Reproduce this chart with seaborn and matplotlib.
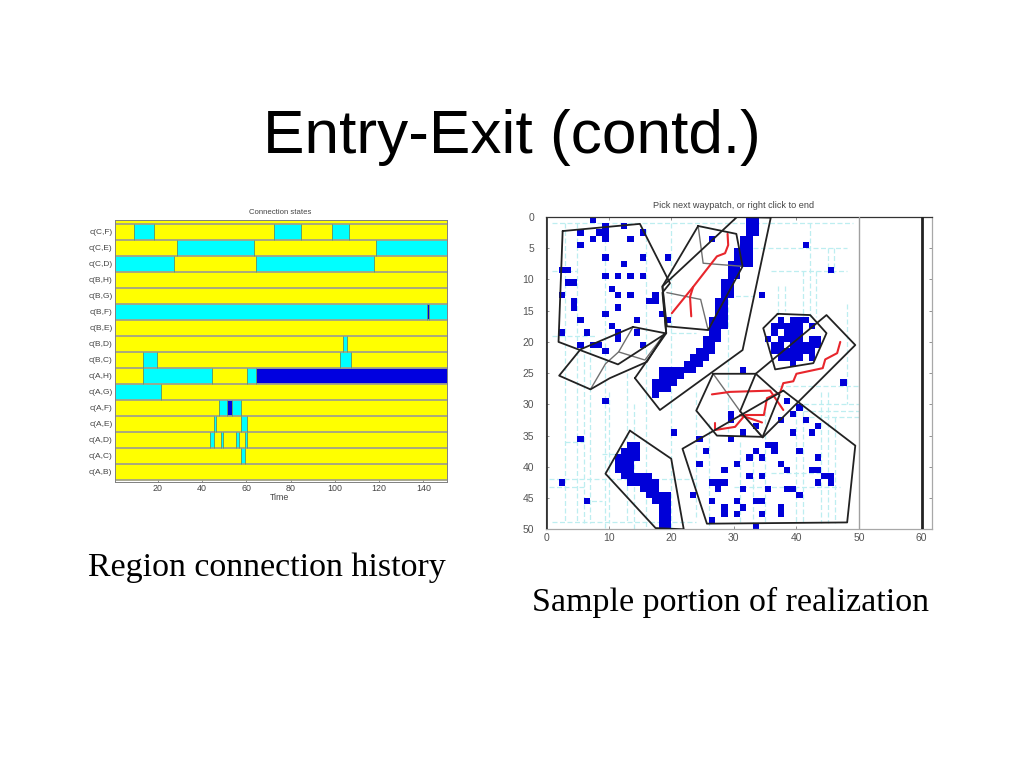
# Entry-exit slide: connection state history and a realization map
import numpy as np
import matplotlib
matplotlib.use('Agg')
import matplotlib.pyplot as plt
from matplotlib.colors import ListedColormap
import seaborn as sns

sns.set_style('white')
plt.rcParams['font.family'] = ['Liberation Sans', 'DejaVu Sans']

W, H = 1024, 768

# left chart: rows top to bottom, (start, stop, state) runs, 0 is yellow by default
conn_labels = ['c(C,F)', 'c(C,E)', 'c(C,D)', 'c(B,H)', 'c(B,G)', 'c(B,F)', 'c(B,E)', 'c(B,D)',
               'c(B,C)', 'c(A,H)', 'c(A,G)', 'c(A,F)', 'c(A,E)', 'c(A,D)', 'c(A,C)', 'c(A,B)']
conn_runs = [
    [(9, 18, 1), (72, 84, 1), (98, 106, 1)],
    [(28, 63, 1), (118, 150, 1)],
    [(0, 27, 1), (64, 117, 1)],
    [],
    [],
    [(0, 141, 1), (141, 142, 2), (142, 150, 1)],
    [],
    [(103, 105, 1)],
    [(13, 19, 1), (102, 107, 1)],
    [(13, 44, 1), (60, 64, 1), (64, 150, 2)],
    [(0, 21, 1)],
    [(47, 51, 1), (51, 53, 2), (53, 57, 1)],
    [(45, 46, 1), (57, 60, 1)],
    [(43, 45, 1), (48, 49, 1), (55, 56, 1), (59, 60, 1)],
    [(57, 59, 1)],
    [],
]
time_ticks = [20, 40, 60, 80, 100, 120, 140]

# right chart: single blue cells (col, row)
blue_cells = [
    (7, 0), (9, 1), (12, 1), (5, 2), (8, 2), (9, 2), (15, 2), (7, 3), (9, 3), (13, 3), (26, 3),
    (5, 4), (9, 6), (15, 6), (19, 6), (12, 7), (2, 8), (3, 8), (9, 9), (11, 9), (13, 9), (15, 9),
    (3, 10), (4, 10), (10, 11), (11, 12), (13, 12), (2, 12), (17, 12), (16, 13), (17, 13),
    (4, 13), (4, 14), (11, 14), (9, 15), (18, 15), (5, 16), (14, 16), (19, 16), (10, 17),
    (2, 18), (6, 18), (11, 18), (14, 18), (11, 19), (5, 20), (7, 20), (8, 20), (15, 20), (9, 21),
    (41, 4), (45, 8), (34, 12), (31, 24), (47, 26), (9, 29), (38, 29), (40, 30), (39, 31),
    (29, 31), (29, 32), (37, 32), (41, 32), (43, 33), (33, 33), (20, 34), (31, 34), (39, 34),
    (42, 34), (5, 35), (24, 35), (29, 35), (35, 36), (36, 36), (25, 37), (33, 37), (36, 37),
    (40, 37), (32, 38), (34, 38), (43, 38), (24, 39), (30, 39), (37, 39), (28, 40), (38, 40),
    (42, 40), (43, 40), (32, 41), (34, 41), (44, 41), (45, 41), (2, 42), (26, 42), (27, 42),
    (28, 42), (43, 42), (45, 42), (27, 43), (31, 43), (35, 43), (38, 43), (39, 43), (23, 44),
    (40, 44), (6, 45), (26, 45), (30, 45), (33, 45), (34, 45), (28, 46), (31, 46), (37, 46),
    (28, 47), (30, 47), (34, 47), (37, 47), (26, 48), (33, 49),
]
# blue runs (row, first col, last col)
band_runs = [
    (0, 32, 33), (1, 32, 33), (2, 32, 33), (3, 31, 32), (4, 31, 32), (5, 30, 32), (6, 30, 32),
    (7, 29, 32), (8, 29, 30), (9, 29, 30), (10, 28, 29), (11, 28, 29), (12, 28, 29), (13, 27, 28),
    (14, 27, 28), (15, 27, 28), (16, 26, 28), (17, 26, 28), (18, 26, 27), (19, 25, 27), (20, 25, 26),
    (21, 24, 26), (22, 23, 25), (23, 22, 24), (24, 18, 23), (25, 18, 21), (26, 17, 20), (27, 17, 19),
    (28, 17, 17),
]
hook_runs = [
    (36, 13, 14), (37, 12, 14), (38, 11, 14), (39, 11, 13), (40, 11, 13), (41, 12, 16), (42, 13, 17),
    (43, 15, 17), (44, 16, 19), (45, 17, 19), (46, 18, 19), (47, 18, 19), (48, 18, 19), (49, 18, 19),
]
blob_runs = [
    (16, 37, 37), (16, 39, 41), (17, 36, 40), (17, 42, 42), (18, 36, 36), (18, 38, 40),
    (19, 35, 35), (19, 37, 40), (19, 42, 43), (20, 36, 37), (20, 39, 43), (21, 36, 42),
    (22, 37, 40), (22, 42, 42), (23, 39, 39),
]

# waypatch outlines
black_polys = [
    [(2.66, 2.25), (15, 1.1), (19.8, 10.6), (18.6, 12.1), (19.2, 18.6), (11.5, 23.6), (2, 20)],
    [(24.3, 1.44), (30.4, 2.7), (31.4, 7.9), (25.9, 18.1), (19.3, 17.5), (18.6, 11.1)],
    [(14.2, 25.8), (19.2, 18.6), (18.6, 11.1), (30.5, 0), (35.9, 0.1), (31.4, 21.3), (18.2, 30.9)],
    [(13.9, 17.6), (19, 18.6), (16.1, 23.2), (10.2, 25.8), (7.1, 27.6), (2.1, 25.4), (5.5, 21.2)],
    [(26.7, 25.1), (33.5, 25.1), (37.3, 28.5), (34.6, 35.2), (27.3, 35), (24, 31)],
    [(33.5, 25.1), (44.8, 15.7), (49.4, 20.5), (34.6, 35.3), (31, 31.1)],
    [(37.9, 27.8), (49.4, 36.6), (48.1, 48.9), (25.7, 49.1), (21.8, 37.1)],
    [(37, 15.5), (42.2, 15.7), (44.8, 18.6), (42.7, 23.4), (36.6, 24.4), (34.7, 17.8)],
    [(13.4, 34.2), (20, 38.7), (22, 50), (17.5, 49.8), (9.5, 41.1)],
]
grey_paths = [
    [(13.9, 17.6), (11.6, 21.6), (15.8, 22.9), (19, 18.6)],
    [(7.1, 27.6), (9.5, 23.5), (11.6, 21.6)],
    [(19.3, 12.1), (24.7, 13.2), (25.9, 18.1)],
    [(24.3, 1.44), (25.1, 7.4), (31.4, 7.9)],
    [(26.7, 25.1), (31, 31.1), (34.6, 35.2)],
]
red_paths = [
    [(29, 2.7), (29.1, 4.5), (28.6, 5.8), (27.3, 6.3), (25.4, 8.75), (23.5, 11.2), (20.1, 15.4)],
    [(23.5, 11.2), (23, 12.8), (23.2, 15.9)],
    [(47, 20), (46.5, 21.8), (44.6, 22.8), (44.2, 24.2), (40, 25.1), (39.5, 26.3), (37.9, 26.6),
     (37.4, 28.1), (35.3, 29), (34.8, 31.7), (31.8, 31.7), (30.2, 33.6), (27, 34.1)],
    [(31, 31.7), (34.5, 32.9)],
    [(26.5, 28.4), (29.4, 28), (35.8, 27.8), (37.9, 30.9)],
    [(27, 33), (27, 34.1)],
]

# dashed partition lines (x, y0, y1) and (y, x0, x1)
v_dash = [
    (3, 1, 49), (5, 1, 49), (6, 22, 49), (7, 20, 49), (9.5, 1, 50), (10, 28, 49), (13, 25, 49),
    (14, 30, 50), (16, 2, 50), (20, 1, 50), (24, 28, 48), (26, 33, 50), (29, 12, 35), (31, 36, 49),
    (33, 38, 50), (35, 30, 49), (37.1, 11, 16), (38.2, 11, 15), (40, 30, 49), (41, 30, 49),
    (41.1, 8.7, 16), (42.1, 1, 16), (43.1, 8.7, 16), (44, 28, 49), (45, 28, 49), (45.1, 5, 9),
    (46, 5, 9), (46.2, 32, 49), (48, 14, 30),
]
h_dash = [
    (1, 1, 49), (4.9, 33, 48), (8.7, 1, 5), (8.7, 36, 48), (12.7, 29, 33), (19, 1, 8), (18.5, 20, 24),
    (27, 37, 50), (29.9, 40, 50), (31, 41, 50), (32, 42, 50), (36, 3, 6), (38, 9, 14), (41, 36, 44),
    (42, 0.5, 24), (43.2, 0.5, 6), (43.2, 30, 47), (45.5, 6, 9), (48.8, 1, 24),
]
map_ticks = [0, 10, 20, 30, 40, 50, 60]
map_rows = [0, 5, 10, 15, 20, 25, 30, 35, 40, 45, 50]


def px_axes(fig, left, top, right, bottom):
    return fig.add_axes([left / W, 1 - bottom / H, (right - left) / W, (bottom - top) / H])


fig = plt.figure(figsize=(W / 100, H / 100), dpi=100, facecolor='white')

fig.text(512 / W, 1 - 138 / H, 'Entry-Exit (contd.)', fontsize=44.7, color='black',
         ha='center', va='center')
fig.text(266.5 / W, 1 - 568 / H, 'Region connection history', fontsize=24.5, color='black',
         family='Liberation Serif', ha='center', va='center')
fig.text(730 / W, 1 - 602 / H, 'Sample portion of realization', fontsize=24.5, color='black',
         family='Liberation Serif', ha='center', va='center')

# ---- connection states
states = np.zeros((len(conn_labels), 150))
for i, runs in enumerate(conn_runs):
    for start, stop, s in runs:
        states[i, start:stop] = s

ax = px_axes(fig, 114.5, 220, 446.7, 481.7)
sns.heatmap(states, ax=ax, cmap=ListedColormap(['#ffff00', '#00ffff', '#0000e0']), vmin=0, vmax=2,
            cbar=False, xticklabels=False, yticklabels=False)
ax.axhspan(-0.23, 0, color='#ffff00', lw=0, zorder=0.5)
ax.hlines(np.arange(len(conn_labels) + 1), 0, 150, color='#a3a388', lw=1.3)
for i in range(len(conn_labels)):
    edges = np.nonzero(np.diff(states[i]))[0] + 1
    ax.vlines(edges, i, i + 1, color='#5fa06e', lw=0.7)
ax.set_xlim(0, 150)
ax.set_ylim(16.125, -0.23)
ax.set_xticks(np.array(time_ticks) - 0.5)
ax.set_xticklabels(time_ticks, fontsize=6.4)
ax.set_yticks(np.arange(len(conn_labels)) + 0.5)
ax.set_yticklabels(conn_labels, rotation=0, fontsize=6)
ax.tick_params(axis='both', direction='in', length=2, width=0.5, color='#666666',
               labelcolor='#444444', pad=1.5, right=True, top=False, bottom=True, left=True)
for sp in ax.spines.values():
    sp.set_visible(True)
    sp.set_color('#808080')
    sp.set_linewidth(0.7)
fig.text(280 / W, 1 - 212 / H, 'Connection states', fontsize=5.6, color='#444444', ha='center', va='center')
fig.text(280 / W, 1 - 497 / H, 'Time', fontsize=6.4, color='#444444', ha='center', va='center')

# ---- realization map
grid = np.zeros((50, 62))
for col, row in blue_cells:
    grid[row, col] = 1
for row, first, last in band_runs + hook_runs + blob_runs:
    grid[row, first:last + 1] = 1

ax2 = px_axes(fig, 546, 217, 932.3, 529.3)
ax2.set_facecolor('white')
sns.heatmap(grid, ax=ax2, mask=grid == 0, cmap=ListedColormap(['#0000d8']), vmin=0, vmax=1,
            cbar=False, xticklabels=False, yticklabels=False, zorder=2)
for x, y0, y1 in v_dash:
    ax2.plot([x, x], [y0, y1], color='#bdeef0', lw=0.9, ls=(0, (4, 2)), zorder=1)
for y, x0, x1 in h_dash:
    ax2.plot([x0, x1], [y, y], color='#bdeef0', lw=0.9, ls=(0, (4, 2)), zorder=1)
for path in grey_paths:
    xs, ys = zip(*path)
    ax2.plot(xs, ys, color='#707070', lw=1.0, zorder=3)
for path in red_paths:
    xs, ys = zip(*path)
    ax2.plot(xs, ys, color='#e8262c', lw=1.5, zorder=4)
for poly in black_polys:
    xs, ys = zip(*(poly + poly[:1]))
    ax2.plot(xs, ys, color='#222222', lw=1.3, zorder=5, clip_on=True)
ax2.axvline(0, color='#333333', lw=2, zorder=6)
ax2.axvline(50, color='#a0a0a0', lw=1, zorder=6)
ax2.axvline(60, color='#222222', lw=2, zorder=6)
ax2.set_xlim(0, 61.7)
ax2.set_ylim(50, 0)
ax2.set_xticks(map_ticks)
ax2.set_xticklabels(map_ticks)
ax2.set_yticks(map_rows)
ax2.set_yticklabels(map_rows, rotation=0)
ax2.tick_params(axis='both', direction='in', length=2, width=0.5, color='#666666', labelsize=7.5,
                labelcolor='#555555', right=True, top=True, bottom=True, left=True)
ax2.tick_params(axis='x', pad=2.5)
ax2.tick_params(axis='y', pad=8.5)
for sp in ax2.spines.values():
    sp.set_visible(True)
    sp.set_color('#a8a8a8')
    sp.set_linewidth(0.9)
ax2.spines['top'].set_color('#333333')
fig.text(734 / W, 1 - 206 / H, 'Pick next waypatch, or right click to end', fontsize=6.6, color='#444444',
         ha='center', va='center')

fig.savefig('out.png', dpi=100, facecolor='white')
